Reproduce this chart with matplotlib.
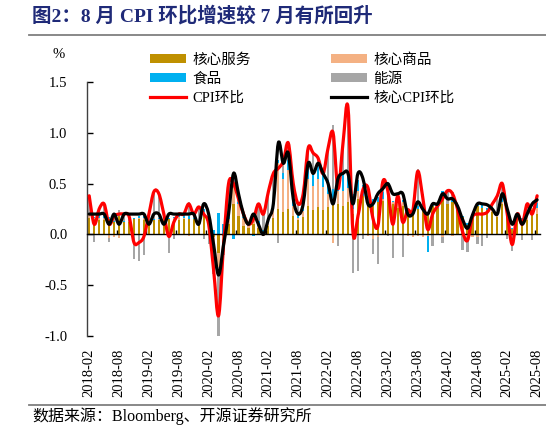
import matplotlib
matplotlib.use("Agg")
import matplotlib.pyplot as plt
from matplotlib.patches import Patch, PathPatch
from matplotlib.lines import Line2D
from matplotlib.path import Path
import numpy as np

plt.rcParams['font.family'] = ['Liberation Serif', 'Noto Sans CJK SC']
plt.rcParams['axes.unicode_minus'] = False

# months 2018-02 .. 2025-08
months = []
for y in range(2018, 2026):
    for m in range(1, 13):
        if (y == 2018 and m < 2) or (y == 2025 and m > 8):
            continue
        months.append(f"{y}-{m:02d}")

cpi = [0.38, 0.1, 0.25, 0.3, 0.1, 0.18, 0.2, 0.2, 0.18, -0.08, -0.08, -0.02,
       0.2, 0.42, 0.4, 0.2, -0.02, 0.12, 0.2, 0.2, 0.3, 0.2, 0.27,
       0.2, 0.1, -0.35, -0.8, -0.1, 0.5, 0.5, 0.35, 0.2, 0.1, 0.15, 0.3,
       0.2, 0.42, 0.6, 0.65, 0.72, 0.9, 0.5, 0.3, 0.4, 0.85, 0.8, 0.75,
       0.6, 0.85, 1.0, 0.45, 0.9, 1.25, 0.02, 0.18, 0.44, 0.46, 0.16, 0.08,
       0.52, 0.43, 0.1, 0.38, 0.12, 0.24, 0.23, 0.62, 0.37, 0.05, 0.2, 0.28,
       0.35, 0.43, 0.4, 0.25, 0.03, -0.06, 0.17, 0.2, 0.2, 0.22, 0.3, 0.38,
       0.5, 0.2, -0.1, 0.2, 0.1, 0.3, 0.2, 0.38]

core = [0.2, 0.2, 0.2, 0.2, 0.1, 0.2, 0.1, 0.2, 0.2, 0.2, 0.2, 0.2,
        0.1, 0.2, 0.2, 0.1, 0.2, 0.2, 0.2, 0.2, 0.2, 0.2, 0.1,
        0.3, 0.2, -0.1, -0.4, -0.1, 0.2, 0.6, 0.4, 0.2, 0.1, 0.2, 0.1,
        0.0, 0.15, 0.3, 0.9, 0.7, 0.8, 0.35, 0.2, 0.3, 0.7, 0.6, 0.7,
        0.6, 0.5, 0.3, 0.55, 0.6, 0.6, 0.3, 0.6, 0.55, 0.3, 0.3, 0.4,
        0.45, 0.5, 0.4, 0.4, 0.4, 0.2, 0.2, 0.32, 0.25, 0.2, 0.3, 0.3,
        0.4, 0.35, 0.35, 0.28, 0.15, 0.06, 0.19, 0.3, 0.3, 0.29, 0.25, 0.2,
        0.4, 0.25, 0.1, 0.2, 0.1, 0.2, 0.3, 0.34]

core_services = [0.16, 0.15, 0.14, 0.14, 0.15, 0.12, 0.18, 0.12, 0.12, 0.15, 0.15, 0.14,
                 0.1, 0.14, 0.14, 0.14, 0.15, 0.14, 0.14, 0.15, 0.15, 0.15, 0.1,
                 0.18, 0.15, -0.03, -0.18, -0.02, 0.1, 0.3, 0.18, 0.08, 0.06, 0.1, 0.06,
                 0.02, 0.08, 0.16, 0.25, 0.22, 0.25, 0.18, 0.14, 0.17, 0.28, 0.24, 0.27,
                 0.24, 0.27, 0.3, 0.3, 0.28, 0.32, 0.2, 0.35, 0.38, 0.3, 0.28, 0.32,
                 0.33, 0.38, 0.3, 0.26, 0.28, 0.2, 0.22, 0.25, 0.28, 0.22, 0.28, 0.26,
                 0.38, 0.3, 0.32, 0.24, 0.17, 0.09, 0.18, 0.28, 0.26, 0.24, 0.22, 0.17,
                 0.3, 0.2, 0.05, 0.15, 0.12, 0.14, 0.24, 0.2]

core_goods = [0.03, 0.01, 0.02, 0.02, -0.04, -0.03, -0.04, -0.01, 0.0, 0.0, 0.01, 0.02,
              0.0, -0.01, 0.01, 0.02, 0.0, 0.02, 0.03, 0.01, -0.02, -0.01, 0.0,
              0.04, 0.01, -0.05, -0.14, -0.06, 0.05, 0.16, 0.12, 0.08, 0.02, 0.04, 0.02,
              -0.02, 0.04, 0.08, 0.45, 0.33, 0.38, 0.1, 0.02, 0.06, 0.27, 0.24, 0.28,
              0.23, 0.13, -0.08, 0.13, 0.15, 0.14, 0.05, 0.08, 0.0, -0.02, -0.05, -0.03,
              0.02, 0.02, 0.02, 0.06, 0.04, -0.02, -0.03, -0.02, -0.03, -0.02, -0.01, 0.0,
              -0.03, 0.0, -0.02, -0.01, -0.02, -0.03, -0.03, -0.03, 0.0, 0.0, 0.02, 0.02,
              0.02, 0.02, 0.0, 0.01, 0.0, 0.06, 0.02, 0.06]

food = [0.01, 0.01, 0.03, 0.02, 0.02, 0.01, 0.01, 0.01, 0.0, 0.01, 0.02, 0.02,
        0.03, 0.01, 0.01, 0.03, 0.01, 0.01, 0.01, 0.02, 0.03, 0.01, 0.02,
        0.03, 0.03, 0.04, 0.21, 0.1, 0.08, -0.05, 0.02, 0.01, 0.02, -0.02, 0.05,
        0.02, 0.03, 0.02, 0.03, 0.05, 0.1, 0.1, 0.06, 0.12, 0.12, 0.1, 0.12,
        0.13, 0.14, 0.15, 0.13, 0.15, 0.14, 0.15, 0.11, 0.11, 0.08, 0.07, 0.05,
        0.07, 0.05, 0.01, 0.01, 0.02, 0.01, 0.03, 0.03, 0.03, -0.15, 0.03, 0.03,
        0.05, 0.0, 0.02, 0.01, 0.01, 0.02, 0.02, 0.01, 0.05, 0.02, 0.03, 0.03,
        0.05, 0.03, 0.01, -0.01, 0.04, 0.04, 0.0, 0.05]

energy = [0.18, -0.07, 0.06, 0.12, -0.03, 0.08, 0.05, 0.08, 0.06, -0.24, -0.26, -0.2,
          0.07, 0.28, 0.24, 0.01, -0.18, -0.05, 0.02, 0.02, 0.14, 0.05, 0.15,
          -0.05, -0.09, -0.31, -0.69, -0.12, 0.27, 0.09, 0.03, 0.03, 0.0, 0.03, 0.17,
          0.18, 0.27, 0.34, -0.08, 0.12, 0.17, 0.12, 0.08, 0.05, 0.18, 0.22, 0.08,
          0.0, 0.31, 0.63, -0.11, 0.32, 0.65, -0.38, -0.36, -0.05, 0.1, -0.14, -0.26,
          0.1, -0.02, -0.23, 0.05, -0.22, 0.05, 0.01, 0.36, 0.09, 0.0, -0.1, -0.01,
          -0.05, 0.13, 0.08, 0.01, -0.13, -0.14, 0.0, -0.06, -0.11, -0.04, 0.03, 0.16,
          0.13, -0.05, -0.16, 0.05, -0.06, 0.06, -0.06, 0.07]

components = [
    ("核心服务", core_services, "#BF9000"),
    ("核心商品", core_goods, "#F4B183"),
    ("食品", food, "#00B0F0"),
    ("能源", energy, "#A6A6A6"),
]


def smooth_path(xs, ys):
    # Excel-style smoothed line: cubic bezier through every data point
    xs = np.asarray(xs, float)
    ys = np.asarray(ys, float)
    pts = np.column_stack([xs, ys])
    n = len(pts)
    verts = [pts[0]]
    codes = [Path.MOVETO]
    for i in range(n - 1):
        p0 = pts[i - 1] if i > 0 else pts[i]
        p1 = pts[i]
        p2 = pts[i + 1]
        p3 = pts[i + 2] if i + 2 < n else pts[i + 1]
        c1 = p1 + (p2 - p0) / 6.0
        c2 = p2 - (p3 - p1) / 6.0
        verts += [c1, c2, p2]
        codes += [Path.CURVE4] * 3
    return Path(verts, codes)


x = np.arange(len(months))

fig = plt.figure(figsize=(5.46, 4.34), dpi=100)
ax = fig.add_axes([0.1588, 0.2258, 0.8295, 0.5853])

pos_base = np.zeros(len(x))
neg_base = np.zeros(len(x))
bar_handles = {}
for name, vals, color in components:
    v = np.array(vals)
    base = np.where(v >= 0, pos_base, neg_base)
    ax.bar(x, v, 0.45, bottom=base, color=color, linewidth=0, zorder=1)
    pos_base = pos_base + np.where(v >= 0, v, 0)
    neg_base = neg_base + np.where(v < 0, v, 0)
    bar_handles[name] = Patch(facecolor=color, edgecolor='none')

ax.add_patch(PathPatch(smooth_path(x, cpi), fill=False, edgecolor='#FF0000',
                       lw=2.3, zorder=3, joinstyle='round', capstyle='round'))
ax.add_patch(PathPatch(smooth_path(x, core), fill=False, edgecolor='black',
                       lw=2.3, zorder=4, joinstyle='round', capstyle='round'))

ax.set_xlim(-0.5, len(x) - 0.5)
ax.set_ylim(-1.0, 1.5)
ax.set_yticks([-1.0, -0.5, 0.0, 0.5, 1.0, 1.5])
ax.set_yticklabels(["-1.0", "-0.5", "0.0", "0.5", "1.0", "1.5"])

for s in ['top', 'right']:
    ax.spines[s].set_visible(False)
ax.spines['bottom'].set_position(('data', 0))
ax.spines['bottom'].set_linewidth(1.0)
ax.spines['left'].set_linewidth(1.0)
ax.spines['left'].set_color('#404040')

tick_idx = list(range(0, len(x), 6))
ax.set_xticks(tick_idx)
ax.set_xticklabels([months[i] for i in tick_idx], rotation=90, fontsize=10.5)
ax.set_xticks([i - 0.5 for i in tick_idx[1:]], minor=True)
ax.tick_params(axis='x', which='major', length=0, pad=82)
ax.tick_params(axis='x', which='minor', direction='in', length=3, width=1)
ax.tick_params(axis='y', direction='in', length=4, width=1, pad=14, labelsize=10.5)

fig.text(59 / 546, 1 - 55 / 434, "%", fontsize=10.5, ha='center', va='center')

handles = [bar_handles["核心服务"], bar_handles["食品"],
           Line2D([], [], color='#FF0000', lw=2.3),
           bar_handles["核心商品"], bar_handles["能源"],
           Line2D([], [], color='black', lw=2.3)]
labels = ["核心服务", "食品", "CPI环比", "核心商品", "能源", "核心CPI环比"]
fig.legend(handles, labels, ncol=2, loc='upper left',
           bbox_to_anchor=(150 / 546, 1 - 53 / 434), frameon=False,
           fontsize=10.5, handlelength=2.5, handleheight=0.55,
           handletextpad=0.4, columnspacing=5.5, labelspacing=0.4,
           borderpad=0, borderaxespad=0)

fig.text(32 / 546, 1 - 16 / 434, "图2：8 月 CPI 环比增速较 7 月有所回升",
         fontsize=14, fontweight='bold', color='#1F2A78', ha='left', va='center')
fig.add_artist(Line2D([29 / 546, 1], [1 - 35 / 434, 1 - 35 / 434],
                      color='#7F7F7F', lw=1.3, transform=fig.transFigure))
fig.add_artist(Line2D([29 / 546, 1], [1 - 405 / 434, 1 - 405 / 434],
                      color='#7F7F7F', lw=1.3, transform=fig.transFigure))
fig.text(32 / 546, 1 - 416 / 434, "数据来源：Bloomberg、开源证券研究所",
         fontsize=11.5, ha='left', va='center')

fig.savefig("out.png", dpi=100)
